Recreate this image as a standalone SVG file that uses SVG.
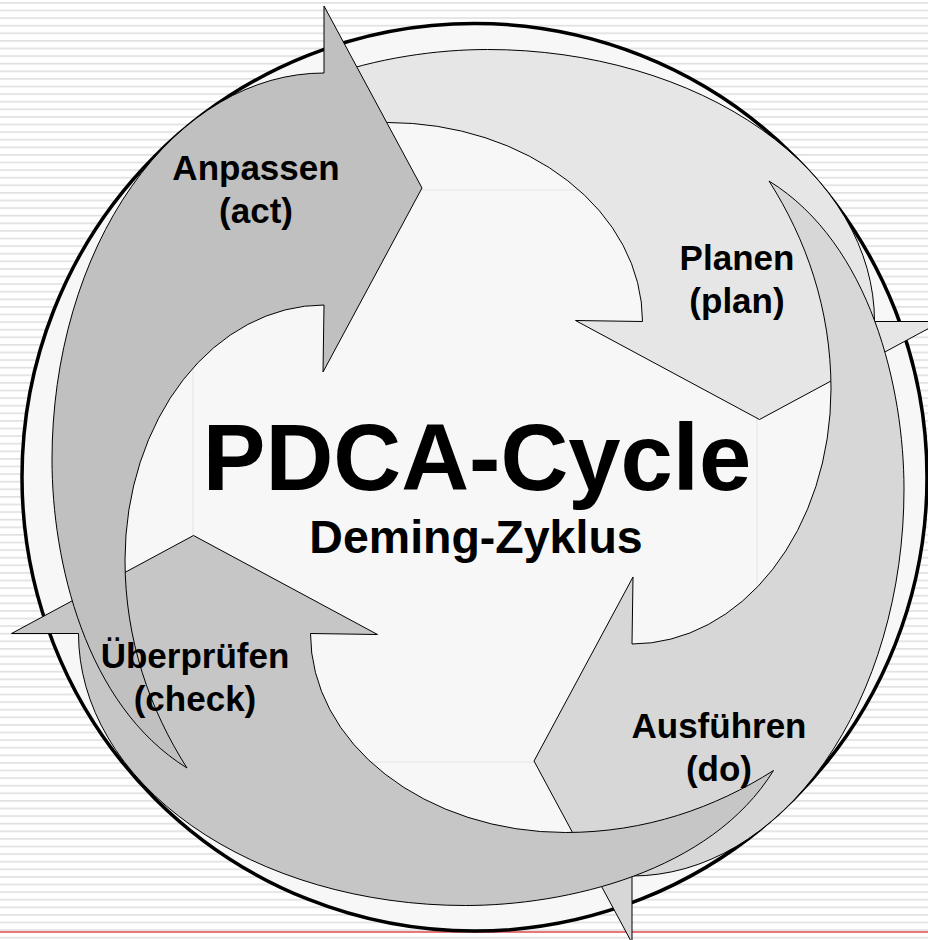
<svg xmlns="http://www.w3.org/2000/svg" xmlns:xlink="http://www.w3.org/1999/xlink" width="928" height="940" viewBox="0 0 928 940">
  <defs>
    <!-- slide background: thin horizontal grey rules -->
    <pattern id="stripes" x="0" y="2" width="8" height="7.6" patternUnits="userSpaceOnUse">
      <rect width="8" height="7.6" fill="#ffffff"/>
      <rect y="0" width="8" height="1.7" fill="#e1e1e1"/>
    </pattern>
    <!-- curved block arrow with tapered tail; drawn pointing right at the top-left quarter -->
    <path id="curved-arrow" d="M 187,768 C 85,705 52,560 52,460 A 272 387 0 0 1 324,73 L 324,6 L 422,188 L 323,372 L 324,305 A 199 255 0 0 0 125,560 C 125,640 150,710 187,768 Z"/>
  </defs>
  <style>
    .arrow { stroke: #000000; stroke-width: 1; stroke-linejoin: miter; }
    .label { font-family: "Liberation Sans", Arial, sans-serif; font-weight: bold; font-size: 35px; fill: #000000; text-anchor: middle; }
    .title { font-family: "Liberation Sans", Arial, sans-serif; font-weight: bold; fill: #000000; text-anchor: middle; }
  </style>

  <!-- background -->
  <rect x="0" y="0" width="928" height="940" fill="url(#stripes)"/>
  <line x1="0" y1="932" x2="928" y2="932" stroke="#e24a4a" stroke-width="1.5"/>

  <!-- outer disc -->
  <g id="disc">
    <ellipse cx="474.5" cy="477.3" rx="452.5" ry="453.8" fill="#f7f7f7" stroke="#000000" stroke-width="3.5"/>
    <rect x="193" y="190" width="564" height="572" fill="none" stroke="#e4e4e4" stroke-width="1"/>
  </g>

  <!-- the four phases, stacked so each one overlaps the tail of the next -->
  <g id="arrows">
    <g id="arrow-plan">
      <use xlink:href="#curved-arrow" class="arrow" fill="#e6e6e6" transform="translate(-3,-1) rotate(90 476 474.5)"/>
    </g>
    <g id="arrow-do">
      <use xlink:href="#curved-arrow" class="arrow" fill="#d7d7d7" transform="translate(4,0) rotate(180 476 474.5)"/>
    </g>
    <g id="arrow-check">
      <use xlink:href="#curved-arrow" class="arrow" fill="#c6c6c6" transform="translate(4,7) rotate(270 476 474.5)"/>
    </g>
    <g id="arrow-act">
      <use xlink:href="#curved-arrow" class="arrow" fill="#c0c0c0"/>
    </g>
  </g>

  <!-- phase labels -->
  <g id="labels">
    <g id="label-act">
      <text class="label" x="256" y="180">Anpassen</text>
      <text class="label" x="256" y="223">(act)</text>
    </g>
    <g id="label-plan">
      <text class="label" x="737" y="270">Planen</text>
      <text class="label" x="737" y="313">(plan)</text>
    </g>
    <g id="label-do">
      <text class="label" x="719" y="738">Ausführen</text>
      <text class="label" x="719" y="781">(do)</text>
    </g>
    <g id="label-check">
      <text class="label" x="195" y="668">Überprüfen</text>
      <text class="label" x="195" y="711">(check)</text>
    </g>
  </g>

  <!-- centre title -->
  <g id="title">
    <text class="title" x="477" y="490" font-size="94">PDCA-Cycle</text>
    <text class="title" x="476" y="553" font-size="46.5">Deming-Zyklus</text>
  </g>
</svg>
